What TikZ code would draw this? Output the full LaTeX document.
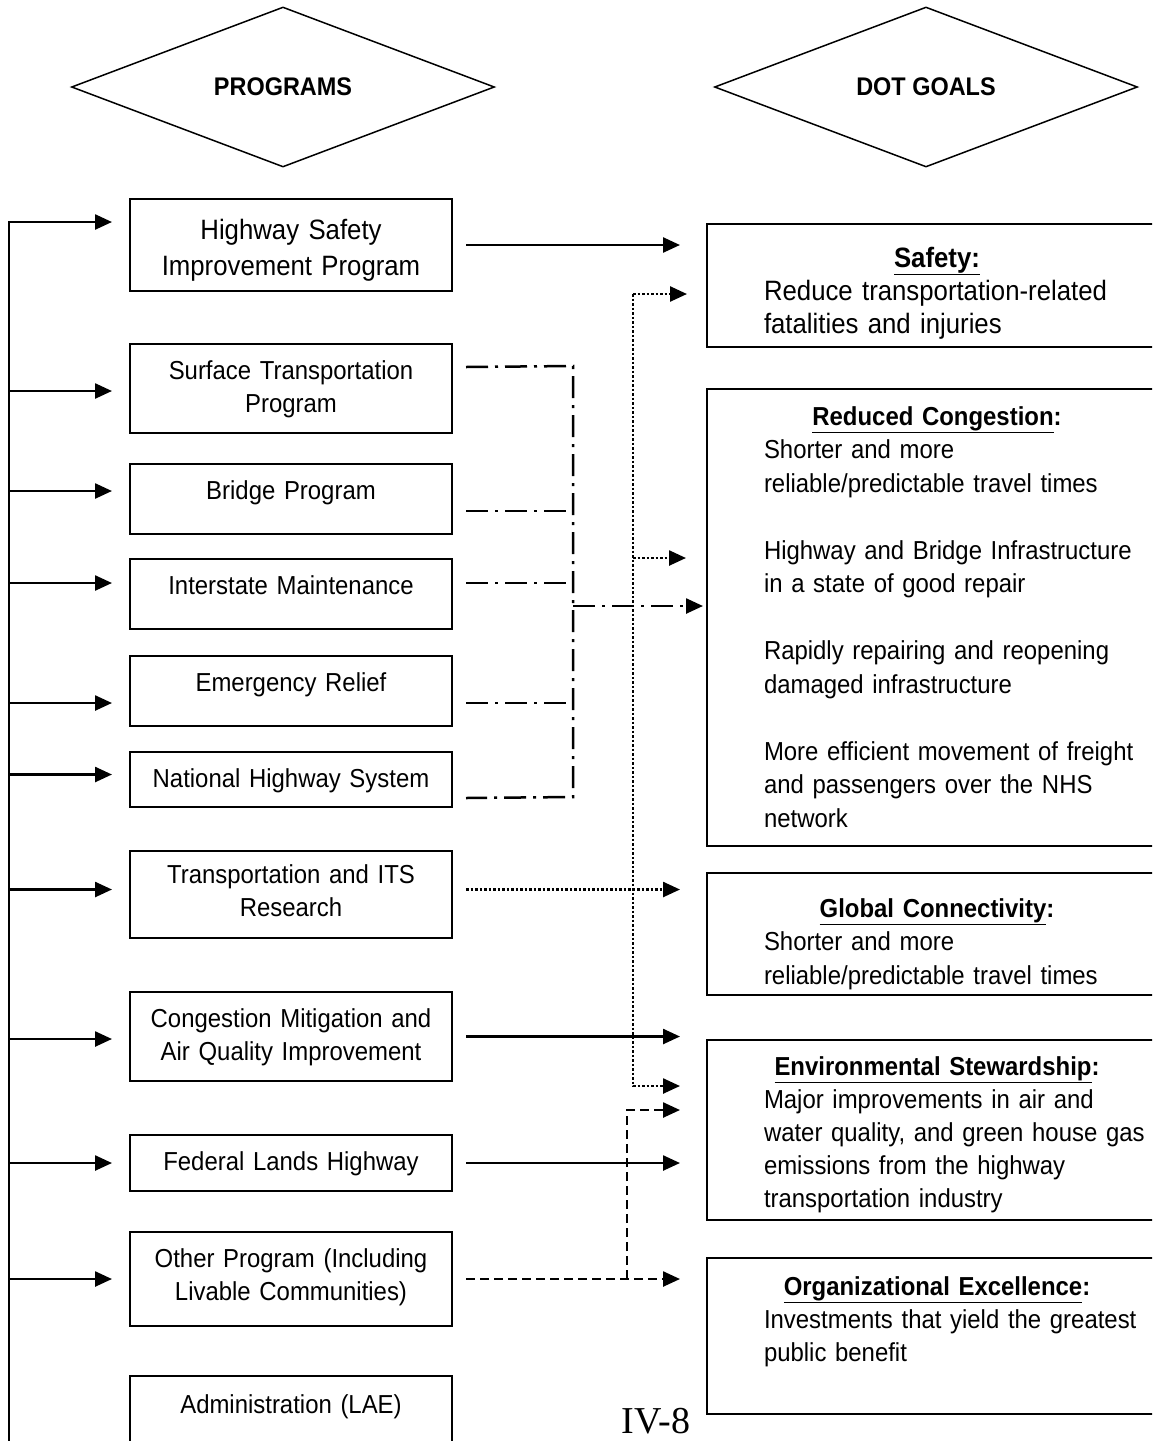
\documentclass[tikz,border=0pt]{standalone}
\usepackage{fontspec}
\setmainfont{Liberation Sans}[FakeStretch=0.92]
\newfontfamily\pagefont{Liberation Serif}
\usetikzlibrary{arrows.meta, shapes.geometric}
\tikzset{
  header/.style={draw, diamond, line width=1.5pt, aspect=2.64, minimum width=423pt, minimum height=160pt, inner sep=0pt, font=\fontsize{25.5}{30}\selectfont\bfseries},
  prog/.style={draw, line width=2pt, anchor=north, text width=312pt, inner xsep=5pt, inner ysep=0pt, text height=35pt, align=center, font=\fontsize{26}{33}\selectfont},
  goal/.style={draw, line width=2pt, anchor=north west, text width=460pt, inner xsep=0pt, inner ysep=0pt, align=left, font=\fontsize{26}{33.5}\selectfont},
  arrow/.style={-{Triangle[length=17pt, width=15pt]}, line width=2.5pt},
  feed/.style={arrow, shorten >=17pt},
  flow/.style={arrow, shorten <=13pt, shorten >=26pt},
  dashdot/.style={line width=2.5pt, dash pattern=on 22pt off 7pt on 3pt off 7pt},
  dotarrow/.style={arrow, dash pattern=on 2.5pt off 2pt},
  dasharrow/.style={arrow, dash pattern=on 9pt off 5pt, shorten >=26pt}
}

\begin{document}
\begin{tikzpicture}[x=1pt, y=-1pt]
    \useasboundingbox (0,0) rectangle (1152,1441);
    \clip (0,0) rectangle (1152,1441);

    \node[header] (programs) at (283,87) {PROGRAMS};
    \node[header] (dotgoals) at (926,87) {DOT GOALS};

    \node[prog, text height=40pt, text depth=52pt, font=\fontsize{28}{36}\selectfont] (hsi) at (291,198) {Highway Safety\\ Improvement Program};
    \node[prog, text depth=54pt] (stp) at (291,343) {Surface Transportation\\ Program};
    \node[prog, text depth=35pt] (bp) at (291,463) {Bridge Program};
    \node[prog, text depth=35pt] (im) at (291,558) {Interstate Maintenance};
    \node[prog, text depth=35pt] (er) at (291,655) {Emergency Relief};
    \node[prog, text depth=20pt] (nhs) at (291,751) {National Highway System};
    \node[prog, text height=32pt, text depth=55pt] (its) at (291,850) {Transportation and ITS\\ Research};
    \node[prog, text depth=54pt] (cmaq) at (291,991) {Congestion Mitigation and\\ Air Quality Improvement};
    \node[prog, text depth=21pt] (flh) at (291,1134) {Federal Lands Highway};
    \node[prog, text depth=59pt] (other) at (291,1231) {Other Program (Including\\ Livable Communities)};
    \node[prog, text height=37pt, text depth=100pt] (lae) at (291,1375) {Administration (LAE)};

    \node[goal, text height=43pt, text depth=80pt, font=\fontsize{28}{33}\selectfont] (safety) at (706,223)
      {{\centering\textbf{\underline{Safety:}}\par}\leftskip=57pt
       Reduce transportation-related\\ fatalities and injuries\par};
    \node[goal, text height=36pt, text depth=421pt] (rc) at (706,388)
      {{\centering\textbf{\underline{Reduced Congestion}:}\par}\leftskip=57pt
       Shorter and more\\ reliable/predictable travel times\\[33.5pt]
       Highway and Bridge Infrastructure\\ in a state of good repair\\[33.5pt]
       Rapidly repairing and reopening\\ damaged infrastructure\\[33.5pt]
       More efficient movement of freight\\ and passengers over the NHS\\ network\par};
    \node[goal, text height=44pt, text depth=78pt] (glob) at (706,872)
      {{\centering\textbf{\underline{Global Connectivity}:}\par}\leftskip=57pt
       Shorter and more\\ reliable/predictable travel times\par};
    \node[goal, text height=35pt, text depth=145pt, font=\fontsize{26}{33}\selectfont] (env) at (706,1039)
      {{\centering\textbf{\underline{Environmental Stewardship}:}\par}\leftskip=57pt
       Major improvements in air and\\ water quality, and green house gas\\ emissions from the highway\\ transportation industry\par};
    \node[goal, text height=37pt, text depth=119pt, font=\fontsize{26}{33}\selectfont] (org) at (706,1257)
      {{\centering\textbf{\underline{Organizational Excellence}:}\par}\leftskip=57pt
       Investments that yield the greatest\\ public benefit\par};

    \node[font=\pagefont\fontsize{38}{44}\selectfont] (pageno) at (656,1421) {IV-8};

    \coordinate (bus) at (9,222);
    \coordinate (busend) at (9,1450);
    \draw[feed] (busend) -- (bus) -- (bus -| hsi.west);
    \draw[feed] ([yshift=-2.5pt]stp.west -| bus) -- ([yshift=-2.5pt]stp.west);
    \draw[feed] ([yshift=8pt]bp.west -| bus) -- ([yshift=8pt]bp.west);
    \draw[feed] ([yshift=11pt]im.west -| bus) -- ([yshift=11pt]im.west);
    \draw[feed] ([yshift=-12pt]er.west -| bus) -- ([yshift=-12pt]er.west);
    \draw[feed] ([yshift=5pt]nhs.west -| bus) -- ([yshift=5pt]nhs.west);
    \draw[feed] ([yshift=5pt]its.west -| bus) -- ([yshift=5pt]its.west);
    \draw[feed] ([yshift=-2.5pt]cmaq.west -| bus) -- ([yshift=-2.5pt]cmaq.west);
    \draw[feed] (flh.west -| bus) -- (flh.west);
    \draw[feed] (other.west -| bus) -- (other.west);

    \draw[flow] (hsi) -- (safety.west |- hsi);
    \draw[flow] (cmaq) -- (env.west |- cmaq);
    \draw[flow] (flh) -- (env.west |- flh);

    \coordinate (ddtop) at (573,366);
    \coordinate (ddbot) at (573,797);
    \coordinate (ddout) at (573,606);
    \draw[dashdot] ([shift={(13,-21.5)}]stp.east) -- (ddtop) -- (ddbot) -- ([shift={(13,18.5)}]nhs.east);
    \draw[dashdot] (bp.east) ++(13,12) coordinate (bpo) -- (bpo -| ddtop);
    \draw[dashdot] (im.east) ++(13,-11) coordinate (imo) -- (imo -| ddtop);
    \draw[dashdot] (er.east) ++(13,12) coordinate (ero) -- (ero -| ddtop);
    \draw[dashdot, arrow, shorten >=3pt] (ddout) -- (ddout -| rc.west);

    \coordinate (dotop) at (633,294);
    \coordinate (domid) at (633,558);
    \coordinate (dobot) at (633,1086);
    \draw[dotarrow, shorten >=19pt] (dotop) -- (dotop -| safety.west);
    \draw[dotarrow, shorten >=20pt] (domid) -- (domid -| rc.west);
    \draw[dotarrow, shorten >=26pt] (dotop) -- (dobot) -- (dobot -| env.west);
    \draw[dotarrow, shorten <=13pt, shorten >=26pt] ([yshift=5pt]its.east) -- ([yshift=5pt]its.east -| glob.west);

    \coordinate (dsh) at (627,1110);
    \draw[dasharrow, shorten <=13pt] (other) -- (org.west |- other);
    \draw[dasharrow] (dsh |- other) -- (dsh) -- (dsh -| env.west);
\end{tikzpicture}
\end{document}
